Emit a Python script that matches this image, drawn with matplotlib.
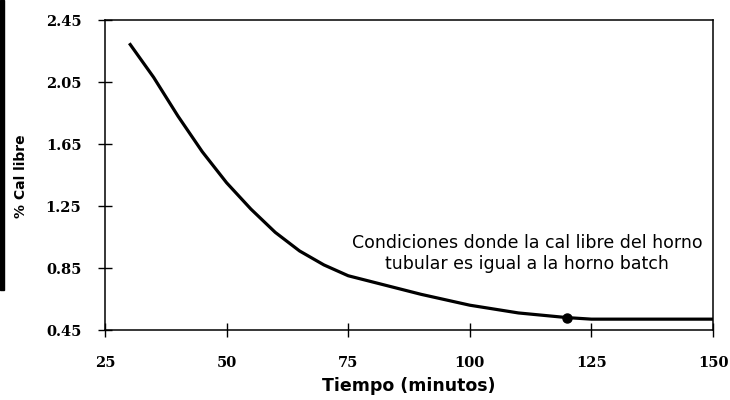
import matplotlib
matplotlib.use("Agg")
import matplotlib.pyplot as plt
from matplotlib.patches import Rectangle

# Free lime content versus residence time in the tubular kiln
tiempo = [30, 35, 40, 45, 50, 55, 60, 65, 70, 75, 80, 90, 100, 110, 120, 125, 150]
cal_libre = [2.30, 2.08, 1.83, 1.60, 1.40, 1.23, 1.08, 0.96, 0.87, 0.80, 0.76,
             0.68, 0.61, 0.56, 0.53, 0.52, 0.52]

# Point where the tubular kiln matches the batch kiln
punto_x = [120]
punto_y = [0.53]

x_ticks = [25, 50, 75, 100, 125, 150]
y_ticks = [0.45, 0.85, 1.25, 1.65, 2.05, 2.45]
y_tick_labels = ["0.45", "0.85", "1.25", "1.65", "2.05", "2.45"]

fig = plt.figure(figsize=(7.3, 4.0), dpi=100)
ax = fig.add_axes([105 / 730, 70 / 400, 608 / 730, 310 / 400])

ax.plot(tiempo, cal_libre, color="black", lw=2.3, solid_capstyle="butt",
        solid_joinstyle="round")
ax.plot(punto_x, punto_y, "o", color="black", ms=6.5)

ax.set_xlim(25, 150)
ax.set_ylim(0.45, 2.45)
ax.set_xticks(x_ticks)
ax.set_yticks(y_ticks)
ax.set_yticklabels(y_tick_labels)

for lab in ax.get_xticklabels() + ax.get_yticklabels():
    lab.set_fontfamily("DejaVu Serif")
    lab.set_fontweight("bold")
    lab.set_fontsize(10.5)

ax.tick_params(axis="y", direction="inout", length=10, width=1, pad=12)
ax.tick_params(axis="x", direction="inout", length=10, width=1, pad=14)

for s in ax.spines.values():
    s.set_linewidth(1.1)
    s.set_color("black")

ax.set_xlabel("Tiempo (minutos)", fontsize=12.5, fontweight="bold", labelpad=5)
ax.set_ylabel("% Cal libre", fontsize=10, fontweight="bold")
ax.yaxis.set_label_coords((28 - 105) / 608, 1 - (176 - 20) / 310)

ax.text(0.694, 0.247, "Condiciones donde la cal libre del horno\ntubular es igual a la horno batch",
        transform=ax.transAxes, ha="center", va="center", fontsize=12.5,
        family="DejaVu Sans", linespacing=1.2)

# Dark bar along the left margin
fig.patches.append(Rectangle((0, 110 / 400), 4 / 730, 290 / 400,
                             transform=fig.transFigure, color="black"))

fig.savefig("out.png", dpi=100)
